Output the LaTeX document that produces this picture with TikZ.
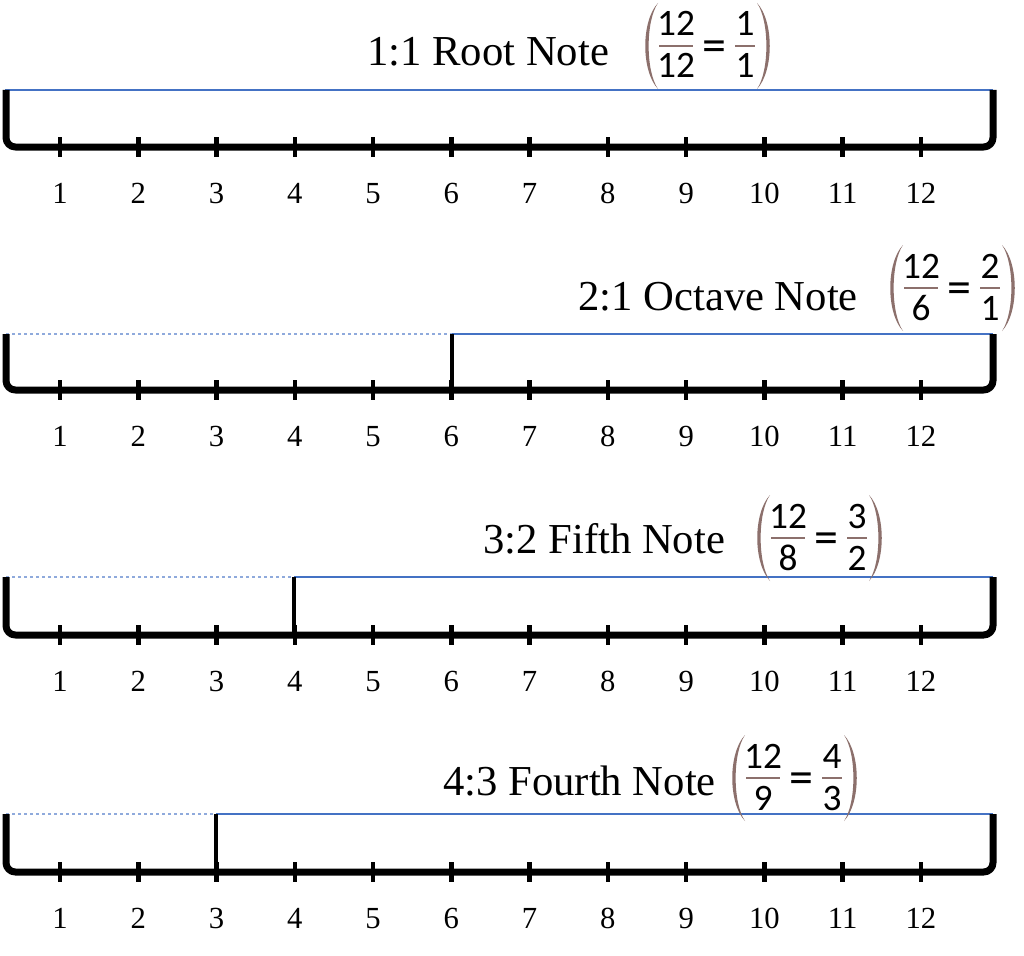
\documentclass[tikz,border=0pt]{standalone}
\usepackage{fontspec}
\setmainfont{Liberation Serif}
\newfontfamily\calfont{Carlito}
\definecolor{lineblue}{RGB}{68,114,196}
\definecolor{dashblue}{RGB}{143,170,220}
\definecolor{parbrown}{RGB}{140,112,108}
\tikzset{
  bracketline/.style={line width=5.25pt, line join=round, rounded corners=7},
  tickline/.style={line width=3.4pt},
  dividerline/.style={line width=3pt},
  solidblue/.style={draw=lineblue, line width=1.1pt},
  dashedblue/.style={draw=dashblue, line width=0.8pt, dash pattern=on 2.5pt off 2pt},
  ticklabel/.style={font=\fontsize{23}{26}\selectfont, anchor=base, inner sep=0pt},
  titletext/.style={font=\fontsize{32}{36}\selectfont, anchor=base west, inner sep=0pt},
  fracnum/.style={font=\calfont\fontsize{28}{32}\selectfont, anchor=base, inner sep=0pt},
  eqsign/.style={font=\calfont\fontsize{36}{40}\selectfont, anchor=base, inner sep=0pt},
  fracbar/.style={draw=parbrown, line width=0.8pt},
  parenfill/.style={fill=parbrown, draw=none},
}
% #1 name, #2 left paren x, #3 bar y, #4 n1, #5 d1, #6 n2, #7 d2, #8 frac1 half width
\newcommand\myratio[8]{%
  \fill[parenfill] (#2+15,#3-43) .. controls (#2-2,#3-25) and (#2-2,#3+25) .. (#2+15,#3+43)
     .. controls (#2+2.5,#3+25) and (#2+2.5,#3-25) .. (#2+15,#3-43) -- cycle;
  \node[fracnum] (#1n1) at (#2+33,#3-10) {#4};
  \draw[fracbar] (#2+33-#8,#3) -- (#2+33+#8,#3);
  \node[fracnum] (#1d1) at (#2+33,#3+32) {#5};
  \node[eqsign] (#1eq) at (#2+71,#3+15.5) {=};
  \node[fracnum] (#1n2) at (#2+102,#3-10) {#6};
  \draw[fracbar] (#2+92,#3) -- (#2+112,#3);
  \node[fracnum] (#1d2) at (#2+102,#3+32) {#7};
  \fill[parenfill] (#2+114,#3-43) .. controls (#2+131,#3-25) and (#2+131,#3+25) .. (#2+114,#3+43)
     .. controls (#2+126.5,#3+25) and (#2+126.5,#3-25) .. (#2+114,#3-43) -- cycle;
}
% #1 name, #2 top y, #3 bottom y
\newcommand\myscale[3]{%
  \draw[bracketline] (6,#2) -- (6,#3) -- (993,#3) -- (993,#2);
  \foreach \i in {1,...,12}{
    \draw[tickline] ({60+(\i-1)*78.27},#3-10) -- ({60+(\i-1)*78.27},#3+10);
    \node[ticklabel] (#1lab\i) at ({60+(\i-1)*78.27},#3+56) {\i};
  }
}
\begin{document}
\begin{tikzpicture}[x=0.75pt,y=-0.75pt]
\useasboundingbox (0,0) rectangle (1024,956);
\fill[white] (0,0) rectangle (1024,956);

% Section 1
\draw[solidblue] (5,90) -- (993,90);
\myscale{a}{90}{147}
\node[titletext] (atitle) at (367,65) {1:1 Root Note};
\myratio{a}{643}{46}{12}{12}{1}{1}{17}

% Section 2
\draw[dashedblue] (6,334) -- (452,334);
\draw[solidblue] (452,334) -- (993,334);
\draw[dividerline] (452,334) -- (452,390);
\myscale{b}{334}{390}
\node[titletext] (btitle) at (578,310) {2:1 Octave Note};
\myratio{b}{888}{288}{12}{6}{2}{1}{17}

% Section 3
\draw[dashedblue] (6,577) -- (294,577);
\draw[solidblue] (294,577) -- (993,577);
\draw[dividerline] (294,577) -- (294,635);
\myscale{c}{577}{635}
\node[titletext] (ctitle) at (483,553) {3:2 Fifth Note};
\myratio{c}{755}{538}{12}{8}{3}{2}{17}

% Section 4
\draw[dashedblue] (6,814) -- (216,814);
\draw[solidblue] (216,814) -- (993,814);
\draw[dividerline] (216,814) -- (216,872);
\myscale{d}{814}{872}
\node[titletext] (dtitle) at (443,795) {4:3 Fourth Note};
\myratio{d}{730}{778}{12}{9}{4}{3}{17}
\end{tikzpicture}
\end{document}
